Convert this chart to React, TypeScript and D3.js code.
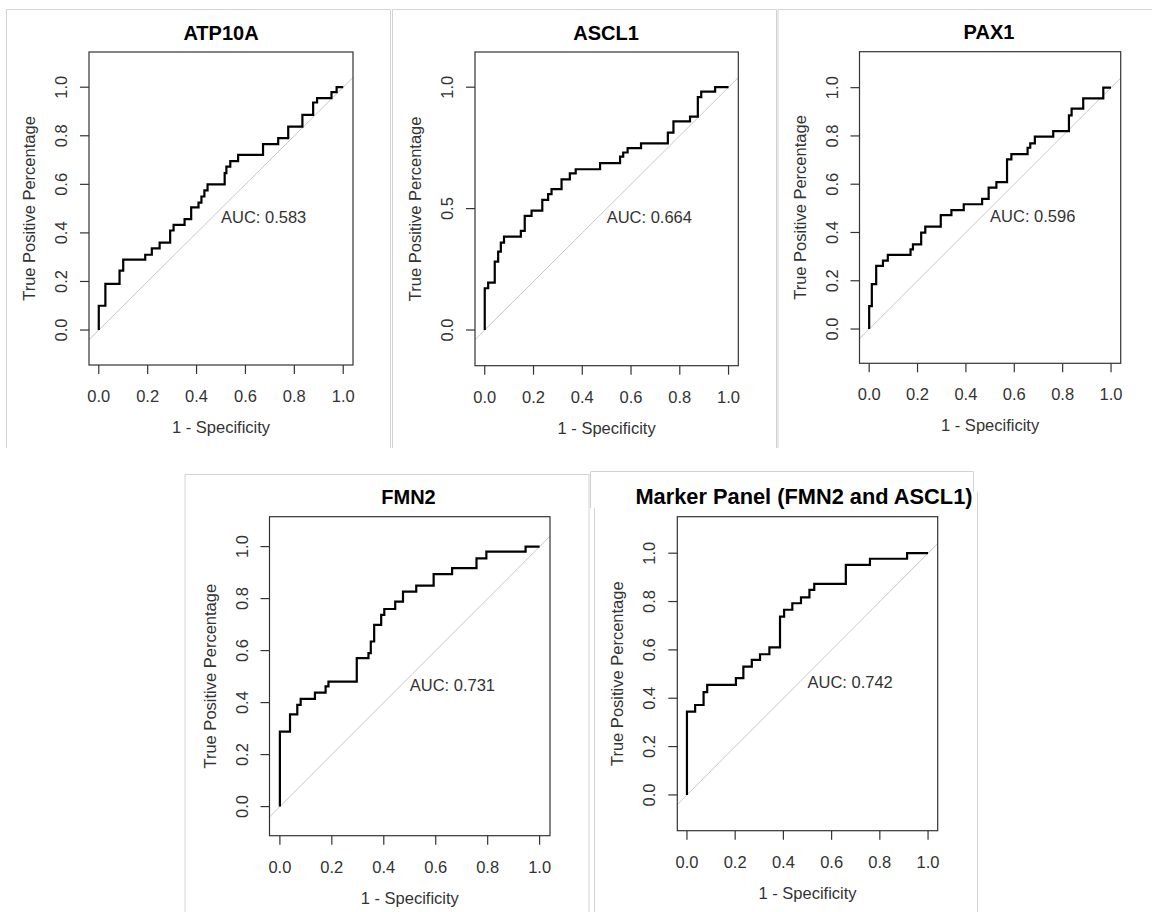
import * as d3 from "d3";
import React from "react";

// tick values
const xTicks = [0, 0.2, 0.4, 0.6, 0.8, 1.0];
const yTicksTenths = [0, 0.2, 0.4, 0.6, 0.8, 1.0];
const yTicksHalves = [0, 0.5, 1.0];

const titles = ["ATP10A", "ASCL1", "PAX1", "FMN2", "Marker Panel (FMN2 and ASCL1)"];
const aucValues = [0.583, 0.664, 0.596, 0.731, 0.742];

// ROC curves as [1 - specificity, sensitivity]
const atp10aRoc = [
  [0, 0], [0, 0.1], [0.027, 0.1], [0.027, 0.19], [0.085, 0.19], [0.085, 0.245],
  [0.1, 0.245], [0.1, 0.29], [0.19, 0.29], [0.19, 0.31], [0.217, 0.31], [0.217, 0.336],
  [0.249, 0.336], [0.249, 0.36], [0.292, 0.36], [0.292, 0.41], [0.306, 0.41], [0.306, 0.433],
  [0.351, 0.433], [0.351, 0.457], [0.378, 0.457], [0.378, 0.505], [0.408, 0.505], [0.408, 0.525],
  [0.42, 0.525], [0.42, 0.55], [0.432, 0.55], [0.432, 0.575], [0.445, 0.575], [0.445, 0.6],
  [0.515, 0.6], [0.515, 0.646], [0.522, 0.646], [0.522, 0.673], [0.538, 0.673], [0.538, 0.696],
  [0.57, 0.696], [0.57, 0.721], [0.672, 0.721], [0.672, 0.766], [0.734, 0.766], [0.734, 0.79],
  [0.775, 0.79], [0.775, 0.838], [0.833, 0.838], [0.833, 0.886], [0.877, 0.886], [0.877, 0.937],
  [0.893, 0.937], [0.893, 0.955], [0.952, 0.955], [0.952, 0.98], [0.973, 0.98], [0.973, 1.0],
  [1, 1],
];

const ascl1Roc = [
  [0, 0], [0, 0.172], [0.014, 0.172], [0.014, 0.195], [0.041, 0.195], [0.041, 0.282],
  [0.055, 0.282], [0.055, 0.323], [0.066, 0.323], [0.066, 0.36], [0.079, 0.36], [0.079, 0.385],
  [0.148, 0.385], [0.148, 0.408], [0.164, 0.408], [0.164, 0.47], [0.192, 0.47], [0.192, 0.492],
  [0.236, 0.492], [0.236, 0.536], [0.26, 0.536], [0.26, 0.56], [0.274, 0.56], [0.274, 0.58],
  [0.315, 0.58], [0.315, 0.62], [0.349, 0.62], [0.349, 0.645], [0.373, 0.645], [0.373, 0.662],
  [0.473, 0.662], [0.473, 0.687], [0.555, 0.687], [0.555, 0.714], [0.568, 0.714], [0.568, 0.731],
  [0.586, 0.731], [0.586, 0.749], [0.641, 0.749], [0.641, 0.769], [0.751, 0.769], [0.751, 0.813],
  [0.774, 0.813], [0.774, 0.859], [0.842, 0.859], [0.842, 0.879], [0.874, 0.879], [0.874, 0.959],
  [0.888, 0.959], [0.888, 0.982], [0.945, 0.982], [0.945, 1.0], [1, 1],
];

const pax1Roc = [
  [0, 0], [0, 0.095], [0.011, 0.095], [0.011, 0.186], [0.029, 0.186], [0.029, 0.262],
  [0.057, 0.262], [0.057, 0.283], [0.077, 0.283], [0.077, 0.307], [0.171, 0.307], [0.171, 0.33],
  [0.181, 0.33], [0.181, 0.351], [0.215, 0.351], [0.215, 0.399], [0.232, 0.399], [0.232, 0.424],
  [0.296, 0.424], [0.296, 0.472], [0.34, 0.472], [0.34, 0.493], [0.391, 0.493], [0.391, 0.517],
  [0.467, 0.517], [0.467, 0.539], [0.494, 0.539], [0.494, 0.586], [0.526, 0.586], [0.526, 0.609],
  [0.57, 0.609], [0.57, 0.703], [0.588, 0.703], [0.588, 0.725], [0.655, 0.725], [0.655, 0.751],
  [0.666, 0.751], [0.666, 0.769], [0.685, 0.769], [0.685, 0.797], [0.761, 0.797], [0.761, 0.82],
  [0.826, 0.82], [0.826, 0.885], [0.837, 0.885], [0.837, 0.913], [0.885, 0.913], [0.885, 0.956],
  [0.968, 0.956], [0.968, 1.0], [1, 1],
];

const fmn2Roc = [
  [0, 0], [0, 0.288], [0.039, 0.288], [0.039, 0.355], [0.067, 0.355], [0.067, 0.391],
  [0.08, 0.391], [0.08, 0.414], [0.135, 0.414], [0.135, 0.438], [0.176, 0.438], [0.176, 0.462],
  [0.187, 0.462], [0.187, 0.481], [0.296, 0.481], [0.296, 0.571], [0.341, 0.571], [0.341, 0.59],
  [0.35, 0.59], [0.35, 0.635], [0.363, 0.635], [0.363, 0.699], [0.39, 0.699], [0.39, 0.737],
  [0.402, 0.737], [0.402, 0.76], [0.444, 0.76], [0.444, 0.788], [0.474, 0.788], [0.474, 0.827],
  [0.525, 0.827], [0.525, 0.85], [0.592, 0.85], [0.592, 0.894], [0.663, 0.894], [0.663, 0.917],
  [0.757, 0.917], [0.757, 0.955], [0.795, 0.955], [0.795, 0.981], [0.946, 0.981], [0.946, 1.0],
  [1, 1],
];

const markerRoc = [
  [0, 0], [0, 0.345], [0.034, 0.345], [0.034, 0.372], [0.069, 0.372], [0.069, 0.425],
  [0.084, 0.425], [0.084, 0.455], [0.203, 0.455], [0.203, 0.483], [0.234, 0.483], [0.234, 0.531],
  [0.269, 0.531], [0.269, 0.559], [0.303, 0.559], [0.303, 0.582], [0.342, 0.582], [0.342, 0.61],
  [0.386, 0.61], [0.386, 0.738], [0.403, 0.738], [0.403, 0.766], [0.437, 0.766], [0.437, 0.793],
  [0.473, 0.793], [0.473, 0.817], [0.508, 0.817], [0.508, 0.848], [0.528, 0.848], [0.528, 0.873],
  [0.659, 0.873], [0.659, 0.952], [0.759, 0.952], [0.759, 0.977], [0.913, 0.977], [0.913, 1.0],
  [1, 1],
];

const rocCurves = [atp10aRoc, ascl1Roc, pax1Roc, fmn2Roc, markerRoc];
const yTickSets = [yTicksTenths, yTicksHalves, yTicksTenths, yTicksTenths, yTicksTenths];

// plot boxes in page pixels (R's plot region), and the y range they cover
const layouts = [
  { left: 89, right: 353, top: 52, bottom: 365, yLo: -0.144, yHi: 1.145, titleX: 221, titleSize: 20 },
  { left: 475, right: 738.3, top: 52, bottom: 365.7, yLo: -0.147, yHi: 1.145, titleX: 606, titleSize: 20 },
  { left: 859.5, right: 1120.7, top: 51.7, bottom: 363.3, yLo: -0.142, yHi: 1.149, titleX: 989, titleSize: 20 },
  { left: 269.5, right: 550, top: 516.7, bottom: 835.7, yLo: -0.112, yHi: 1.115, titleX: 408.5, titleSize: 20 },
  { left: 677.3, right: 937.7, top: 516.7, bottom: 830.7, yLo: -0.148, yHi: 1.151, titleX: 804, titleSize: 21.8 },
];

// light grey screenshot frames around each panel
const frameLines = [
  [6.5, 9.5, 390.5, 9.5], [6.5, 9.5, 6.5, 448], [390.5, 9.5, 390.5, 448],
  [392.5, 9.5, 776.5, 9.5], [392.5, 9.5, 392.5, 448], [776.5, 9.5, 776.5, 448],
  [778, 9.5, 1152, 9.5], [778, 9.5, 778, 448],
  [185, 474.5, 589, 474.5], [185, 474.5, 185, 912], [589, 474.5, 589, 912],
  [590.5, 471.5, 973, 471.5], [590.5, 471.5, 590.5, 508], [594.5, 508, 594.5, 912],
  [973.5, 471.5, 973.5, 492], [977.5, 492, 977.5, 912],
];

const FONT = "'Liberation Sans', Arial, Helvetica, sans-serif";
const TEXT = "#333";

const fmt = (v) => v.toFixed(1);

const Panel = ({ layout, title, auc, roc, yTicks }) => {
  const x = d3.scaleLinear().domain([-0.04, 1.04]).range([layout.left, layout.right]);
  const y = d3.scaleLinear().domain([layout.yLo, layout.yHi]).range([layout.bottom, layout.top]);
  const line = d3
    .line()
    .x((d) => x(d[0]))
    .y((d) => y(d[1]));
  const midY = (layout.top + layout.bottom) / 2;
  const midX = (layout.left + layout.right) / 2;

  return (
    <g fontFamily={FONT}>
      {/* chance line */}
      <line
        x1={x(-0.04)}
        y1={y(-0.04)}
        x2={x(1.04)}
        y2={y(1.04)}
        stroke="#c8c8c8"
        strokeWidth={1}
      />
      <path d={line(roc)} fill="none" stroke="#000" strokeWidth={2.2} strokeLinejoin="miter" />
      <text x={x(0.5)} y={y(0.5) + 14} fontSize={16.5} fill={TEXT}>
        {`AUC: ${auc.toFixed(3)}`}
      </text>
      <rect
        x={layout.left}
        y={layout.top}
        width={layout.right - layout.left}
        height={layout.bottom - layout.top}
        fill="none"
        stroke="#333"
        strokeWidth={1.2}
      />
      {/* x axis */}
      {xTicks.map((t) => (
        <g key={"x" + t}>
          <line x1={x(t)} x2={x(t)} y1={layout.bottom} y2={layout.bottom + 9} stroke="#333" strokeWidth={1.2} />
          <text x={x(t)} y={layout.bottom + 37} textAnchor="middle" fontSize={16.5} fill={TEXT}>
            {fmt(t)}
          </text>
        </g>
      ))}
      <text x={midX} y={layout.bottom + 68} textAnchor="middle" fontSize={16.5} fill={TEXT}>
        1 - Specificity
      </text>
      {/* y axis */}
      {yTicks.map((t) => (
        <g key={"y" + t}>
          <line x1={layout.left - 9} x2={layout.left} y1={y(t)} y2={y(t)} stroke="#333" strokeWidth={1.2} />
          <text
            transform={`translate(${layout.left - 22},${y(t)}) rotate(-90)`}
            textAnchor="middle"
            fontSize={16.5}
            fill={TEXT}
          >
            {fmt(t)}
          </text>
        </g>
      ))}
      <text
        transform={`translate(${layout.left - 54},${midY}) rotate(-90)`}
        textAnchor="middle"
        fontSize={16.5}
        fill={TEXT}
      >
        True Positive Percentage
      </text>
      <text
        x={layout.titleX}
        y={layout.top - 12.5}
        textAnchor="middle"
        fontSize={layout.titleSize}
        fontWeight="bold"
        fill="#000"
      >
        {title}
      </text>
    </g>
  );
};

export default function App() {
  return (
    <svg
      width={1152}
      height={912}
      viewBox="0 0 1152 912"
      style={{ position: "absolute", left: 0, top: 0, background: "#fff" }}
    >
      <rect width={1152} height={912} fill="#fff" />
      {frameLines.map((l, i) => (
        <line key={i} x1={l[0]} y1={l[1]} x2={l[2]} y2={l[3]} stroke="#d2d2d2" strokeWidth={1} />
      ))}
      {layouts.map((layout, i) => (
        <Panel
          key={titles[i]}
          layout={layout}
          title={titles[i]}
          auc={aucValues[i]}
          roc={rocCurves[i]}
          yTicks={yTickSets[i]}
        />
      ))}
    </svg>
  );
}
